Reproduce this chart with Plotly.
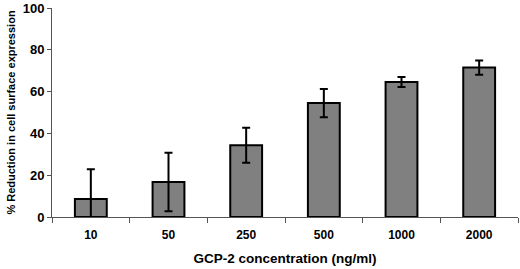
import plotly.graph_objects as go

categories = ["10", "50", "250", "500", "1000", "2000"]
values = [8.6, 16.8, 34.3, 54.5, 64.6, 71.5]
errors = [14.2, 14.0, 8.4, 6.8, 2.4, 3.4]
y_ticks = [0, 20, 40, 60, 80, 100]

fig = go.Figure(go.Bar(
    x=categories, y=values,
    marker=dict(color="#808080", line=dict(color="black", width=2)),
    error_y=dict(type="data", array=errors, color="black", thickness=2, width=4),
))

font = "Liberation Sans, Arial, sans-serif"
fig.update_layout(
    width=520, height=269,
    margin=dict(l=52, r=2, t=8, b=52),
    paper_bgcolor="white", plot_bgcolor="white",
    bargap=0.59,
    showlegend=False,
    font=dict(family=font, color="black"),
)
fig.update_xaxes(
    automargin=False,
    showline=True, linecolor="#555", linewidth=1,
    tickson="boundaries", ticks="outside", ticklen=5, tickcolor="#555",
    ticklabelstandoff=7,
    tickfont=dict(size=12, family=font, weight="bold"),
    title=dict(text="GCP-2 concentration (ng/ml)", font=dict(size=13.5, weight="bold"), standoff=12),
    showgrid=False,
)
fig.update_yaxes(
    automargin=False,
    range=[0, 100], tickvals=y_ticks,
    showline=True, linecolor="#555", linewidth=1,
    ticks="outside", ticklen=4, tickcolor="#555",
    tickfont=dict(size=13, family=font, weight="bold"),
    title=dict(text="% Reduction in cell surface expression", font=dict(size=11, weight="bold"), standoff=4),
    showgrid=False, zeroline=False,
)
fig.write_html("out.html", config={"displayModeBar": False},
               post_script="document.body.style.margin='0';document.body.style.overflow='hidden';")
